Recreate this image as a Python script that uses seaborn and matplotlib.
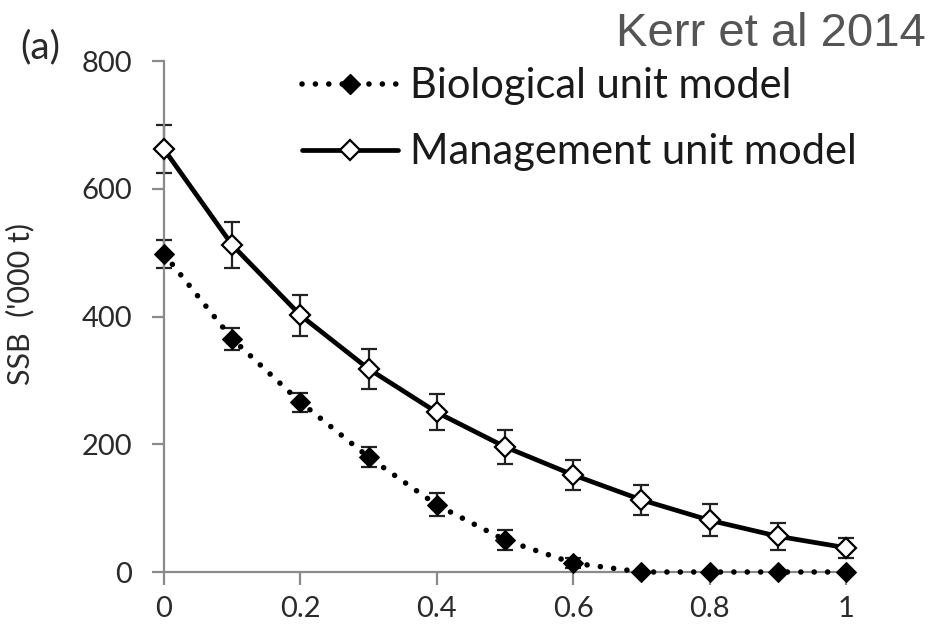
import matplotlib
matplotlib.use("Agg")
import matplotlib.pyplot as plt
from matplotlib.lines import Line2D
import seaborn as sns
import pandas as pd

# Fishing mortality levels and spawning stock biomass ('000 t)
f_levels = [0.0, 0.1, 0.2, 0.3, 0.4, 0.5, 0.6, 0.7, 0.8, 0.9, 1.0]
bio_ssb = [498, 365, 266, 180, 105, 50, 14, 0, 0, 0, 0]
bio_err = [22, 17, 15, 16, 18, 15, 8, 0, 0, 0, 0]
mgmt_ssb = [662, 512, 402, 318, 250, 196, 152, 113, 81, 56, 38]
mgmt_err = [38, 36, 32, 31, 28, 27, 24, 23, 25, 21, 16]

series_names = ["Biological unit model", "Management unit model"]
x_ticks = [0, 0.2, 0.4, 0.6, 0.8, 1]
x_tick_labels = ["0", "0.2", "0.4", "0.6", "0.8", "1"]
y_ticks = [0, 200, 400, 600, 800]

bio_df = pd.DataFrame({"F": f_levels, "SSB": bio_ssb, "err": bio_err})
mgmt_df = pd.DataFrame({"F": f_levels, "SSB": mgmt_ssb, "err": mgmt_err})

sns.set_theme(style="white")
plt.rcParams["font.family"] = ["Lato", "DejaVu Sans"]

fig = plt.figure(figsize=(9.38, 6.27), dpi=100)
ax = fig.add_axes([0.1748, 0.0877, 0.9019 - 0.1748, 0.9027 - 0.0877])

dot_style = (0, (0.01, 2.4))

bio_kw = dict(color="black", linestyle=dot_style, dash_capstyle="round",
              linewidth=4.0, marker="D", markersize=10,
              markerfacecolor="black", markeredgecolor="black")
mgmt_kw = dict(color="black", linestyle="-", linewidth=3.4, marker="D",
               markersize=10, markerfacecolor="white",
               markeredgecolor="black", markeredgewidth=1.6)

# Error bars underneath the lines
for d in (bio_df, mgmt_df):
    ax.errorbar(d["F"], d["SSB"], yerr=d["err"], fmt="none",
                ecolor="#222222", elinewidth=1.6, capsize=6, capthick=1.6,
                clip_on=False, zorder=2)

sns.lineplot(data=bio_df, x="F", y="SSB", ax=ax, errorbar=None,
             clip_on=False, zorder=3, **bio_kw)
sns.lineplot(data=mgmt_df, x="F", y="SSB", ax=ax, errorbar=None,
             clip_on=False, zorder=4, **mgmt_kw)

ax.set_xlim(0, 1)
ax.set_ylim(0, 800)
ax.set_xticks(x_ticks)
ax.set_xticklabels(x_tick_labels)
ax.set_yticks(y_ticks)

for side in ["top", "right"]:
    ax.spines[side].set_visible(False)
for side in ["left", "bottom"]:
    ax.spines[side].set_color("#8a8a8a")
    ax.spines[side].set_linewidth(1.6)

ax.tick_params(axis="both", which="major", direction="out", length=9,
               width=1.6, color="#8a8a8a", labelsize=21, labelcolor="#2a2a2a",
               left=True, bottom=True)
ax.tick_params(axis="y", pad=14)
ax.tick_params(axis="x", pad=8)

ax.set_xlabel("")
ax.set_ylabel("SSB  ('000 t)", fontsize=22, color="#2a2a2a")
ax.yaxis.set_label_coords(-0.19, 0.525)

handles = [Line2D([], [], **bio_kw), Line2D([], [], **mgmt_kw)]
fig.legend(handles, series_names, loc="upper left", bbox_to_anchor=(0.322, 0.893),
           frameon=False, fontsize=30, handlelength=2.3, handletextpad=0.3,
           labelspacing=0.68, numpoints=1, labelcolor="#1a1a1a",
           borderaxespad=0, borderpad=0)

fig.text(0.022, 0.925, "(a)", fontsize=28, color="#2a2a2a", va="center", ha="left")
fig.text(0.987, 0.945, "Kerr et al 2014", fontsize=34, color="#555555",
         family=["Liberation Sans", "DejaVu Sans"], ha="right", va="center")

fig.savefig("out.png", dpi=100)
